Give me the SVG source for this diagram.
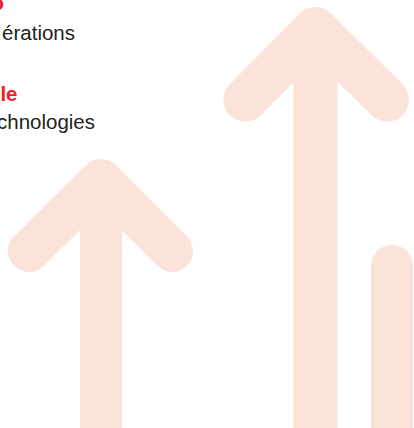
<svg xmlns="http://www.w3.org/2000/svg" width="414" height="428" viewBox="0 0 414 428">
<style>
.arr{fill:none;stroke:#fce3d9;stroke-linecap:round;stroke-linejoin:round}
.h{font-family:"Liberation Sans",Arial,sans-serif;font-weight:bold;font-size:20.5px;fill:#ee1d27}
.b{font-family:"Liberation Sans",Arial,sans-serif;font-size:20.5px;fill:#222222}
</style>
<rect width="414" height="428" fill="#ffffff"/>
<g id="arrow-left">
<path class="arr" stroke-width="42" d="M101 180 V440 M29 251 L101 180 L172 251"/>
</g>
<g id="arrow-right">
<path class="arr" stroke-width="44" d="M315.5 29 V440 M245.3 99.7 L315.5 29 L387 99.7"/>
</g>
<g id="bar">
<path class="arr" stroke-width="42" d="M392 266 V440"/>
</g>
<g id="text1">
<text class="h" x="4" y="10" text-anchor="end">o</text>
<text class="b" x="75" y="39.5" text-anchor="end">érations</text>
</g>
<g id="text2">
<text class="h" x="17.5" y="100.5" text-anchor="end">le</text>
<text class="b" x="95" y="128.5" text-anchor="end">chnologies</text>
</g>
</svg>
